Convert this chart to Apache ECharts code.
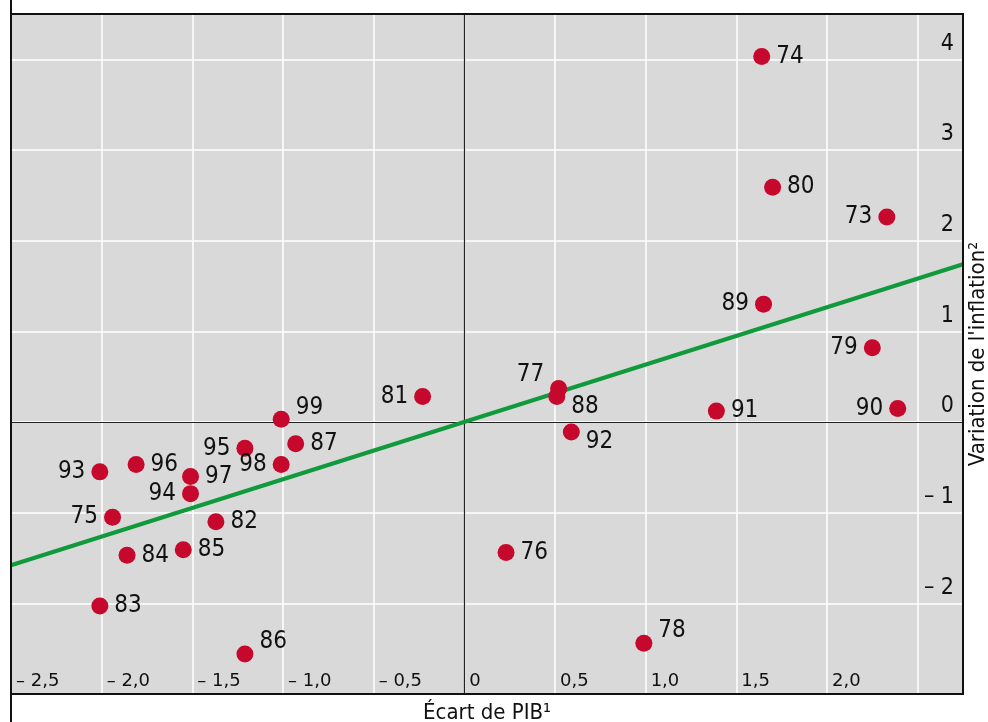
<!DOCTYPE html>
<html>
<head>
<meta charset="utf-8">
<script src="https://cdn.jsdelivr.net/npm/echarts@6/dist/echarts.min.js"></script>
<style>
  html, body { margin: 0; padding: 0; background: #fff; }
  #main { width: 988px; height: 722px; }
</style>
</head>
<body>
<div id="main"></div>
<script>
// années (étiquettes des points)
var years = ["74", "80", "73", "89", "79", "90", "91", "77", "88", "92", "76", "78",
  "81", "99", "87", "95", "98", "96", "97", "93", "94", "75", "82", "84", "85", "83", "86"];
// écart de PIB (axe x)
var gapValues = [1.64, 1.70, 2.33, 1.65, 2.25, 2.39, 1.39, 0.52, 0.51, 0.59, 0.23, 0.99,
  -0.23, -1.01, -0.93, -1.21, -1.01, -1.81, -1.51, -2.01, -1.51, -1.94, -1.37, -1.86, -1.55, -2.01, -1.21];
// variation de l'inflation (axe y)
var inflationValues = [4.03, 2.59, 2.26, 1.30, 0.82, 0.15, 0.12, 0.37, 0.28, -0.11, -1.44, -2.44,
  0.28, 0.03, -0.24, -0.29, -0.47, -0.47, -0.60, -0.55, -0.79, -1.05, -1.10, -1.47, -1.41, -2.03, -2.56];
// droite de tendance
var trendX = [-2.5, 2.75];
var trendY = [-1.58, 1.74];
// étiquettes des axes
var xTickValues = [-2.5, -2.0, -1.5, -1.0, -0.5, 0, 0.5, 1.0, 1.5, 2.0];
var xTickLabels = ["– 2,5", "– 2,0", "– 1,5", "– 1,0", "– 0,5", "0", "0,5", "1,0", "1,5", "2,0"];
var yTickValues = [4, 3, 2, 1, 0, -1, -2];
var yTickLabels = ["4", "3", "2", "1", "0", "– 1", "– 2"];

var chart = echarts.init(document.getElementById("main"), null, { renderer: "canvas" });

var narrow = "'Liberation Sans Narrow', 'DejaVu Sans Condensed', 'DejaVu Sans'";
var cond = "condensed"; // font-stretch glissé dans le raccourci font du canvas

// position des étiquettes autour des points
var leftSide = { "73": 1, "89": 1, "79": 1, "90": 1, "81": 1, "95": 1, "98": 1, "93": 1, "94": 1, "75": 1, "77": 1 };
var offsets = {
  "86": [0, -12], "78": [0, -12], "99": [0, -12],
  "88": [0, 10], "92": [0, 10], "77": [0, -14]
};

var points = [];
for (var i = 0; i < years.length; i++) {
  var y = years[i];
  var lab = { position: leftSide[y] ? "left" : "right" };
  if (offsets[y]) lab.offset = offsets[y];
  points.push({ value: [gapValues[i], inflationValues[i]], name: y, label: lab });
}

function tickFmt(values, labels) {
  return function (v) {
    for (var k = 0; k < values.length; k++) {
      if (Math.abs(values[k] - v) < 1e-6) return labels[k];
    }
    return "";
  };
}

var option = {
  animation: false,
  backgroundColor: "#fff",
  grid: {
    left: 11, top: 14, right: 25, bottom: 28,
    outerBoundsMode: "none",
    containLabel: false,
    show: true,
    backgroundColor: "#d9d9d9",
    borderWidth: 0
  },
  graphic: [
    {
      type: "line",
      shape: { x1: 11, y1: 0, x2: 11, y2: 722 },
      style: { stroke: "#111", lineWidth: 2 },
      z: 10
    },
    {
      type: "rect",
      shape: { x: 11, y: 14, width: 952, height: 680 },
      style: { fill: null, stroke: "#111", lineWidth: 2 },
      z: 10
    }
  ],
  xAxis: {
    type: "value",
    min: -2.5,
    max: 2.75,
    interval: 0.5,
    name: "Écart de PIB¹",
    nameLocation: "middle",
    nameGap: 8,
    nameTextStyle: { fontFamily: narrow, fontWeight: cond, fontSize: 22, color: "#111", verticalAlign: "top" },
    axisLine: { show: false },
    axisTick: { show: false },
    splitLine: { show: true, lineStyle: { color: "#ffffff", width: 1.5 } },
    axisLabel: {
      inside: true,
      margin: 4,
      align: "left",
      padding: [0, 0, 0, 5],
      fontFamily: "'DejaVu Sans', sans-serif",
      fontSize: 18,
      color: "#111",
      showMinLabel: true,
      showMaxLabel: false,
      formatter: tickFmt(xTickValues, xTickLabels)
    }
  },
  yAxis: {
    type: "value",
    position: "right",
    min: -3,
    max: 4.5,
    interval: 1,
    name: "Variation de l'inflation²",
    nameLocation: "middle",
    nameRotate: 90,
    nameGap: 4,
    nameTextStyle: { fontFamily: narrow, fontWeight: cond, fontSize: 22, color: "#111" },
    axisLine: { show: false },
    axisTick: { show: false },
    splitLine: { show: true, lineStyle: { color: "#ffffff", width: 1.5 } },
    axisLabel: {
      inside: true,
      margin: 9,
      verticalAlign: "bottom",
      padding: [0, 0, 4, 0],
      fontFamily: narrow,
      fontWeight: cond,
      fontSize: 23,
      color: "#111",
      showMaxLabel: false,
      formatter: tickFmt(yTickValues, yTickLabels)
    }
  },
  series: [
    {
      type: "line",
      data: [[trendX[0], trendY[0]], [trendX[1], trendY[1]]],
      showSymbol: false,
      lineStyle: { color: "#109a3c", width: 4 },
      z: 3,
      markLine: {
        silent: true,
        symbol: "none",
        label: { show: false },
        lineStyle: { color: "#222", width: 1.2, type: "solid" },
        data: [{ xAxis: 0 }, { yAxis: 0 }],
        z: 2
      }
    },
    {
      type: "scatter",
      data: points,
      symbolSize: 17,
      itemStyle: { color: "#c5082c", opacity: 1 },
      z: 5,
      label: {
        show: true,
        distance: 6,
        formatter: "{b}",
        fontFamily: narrow,
        fontWeight: cond,
        fontSize: 24,
        color: "#111"
      }
    }
  ]
};

chart.setOption(option);
</script>
</body>
</html>
